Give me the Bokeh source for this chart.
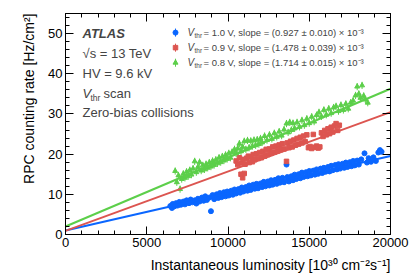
from bokeh.plotting import figure
from bokeh.models import Range1d, LinearAxis, SingleIntervalTicker, Label, Title
from bokeh.embed import file_html
from bokeh.resources import INLINE

# ---------------- data ----------------
blue_x = [6450, 6550, 6600, 6700, 6800, 6900, 7000, 7100, 7250, 7350, 7450, 7600, 7700, 7800,
          7950, 8050, 8150, 8250, 8400, 8500, 8600, 8700, 8850, 8950, 9050, 9150, 9300, 9400,
          9500, 9600, 9750, 9850, 9950, 10050, 10200, 10300, 10400, 10500, 10650, 10750, 10850,
          10950, 11100, 11200, 11300, 11400, 11550, 11650, 11750, 11850, 12000, 12100, 12200,
          12300, 12450, 12550, 12650, 12750, 12900, 13000, 13100, 13200, 13350, 13450, 13600,
          13650, 13750, 13900, 14000, 14100, 14200, 14350, 14450, 14550, 14650, 14800, 14900,
          15000, 15100, 15250, 15350, 15450, 15550, 15700, 15800, 15900, 16000, 16150, 16250,
          16350, 16450, 16600, 16700, 16800, 16900, 17050, 17150, 17250, 17350, 17500, 17600,
          17700, 17800, 17950, 18050, 18200, 18400, 18550, 18650, 18800, 18950, 19100, 19250,
          19350, 19450]
blue_y = [7.1, 6.6, 7.6, 7.0, 7.8, 7.2, 8.1, 7.4, 8.2, 7.5, 8.5, 7.8, 8.7, 8.0,
          8.5, 7.7, 8.9, 8.2, 9.2, 8.4, 9.5, 8.6, 9.2, 5.8, 9.8, 8.8, 10.0, 9.1,
          10.3, 9.3, 10.5, 9.5, 10.7, 9.7, 10.9, 9.9, 11.2, 10.2, 11.3, 10.4, 11.7,
          10.7, 11.8, 10.9, 12.2, 11.1, 12.4, 11.4, 12.6, 11.5, 12.7, 11.8, 13.1,
          12.0, 13.2, 12.2, 13.5, 12.4, 13.6, 12.6, 14.0, 12.9, 14.1, 13.0, 17.4,
          14.3, 13.2, 14.5, 13.5, 14.9, 13.8, 15.0, 14.0, 15.4, 14.3, 15.5, 14.5,
          15.8, 14.7, 15.9, 14.9, 16.2, 15.1, 16.4, 15.3, 16.6, 15.6, 16.8, 15.7,
          17.1, 16.0, 17.3, 16.2, 17.5, 16.4, 17.6, 16.6, 17.9, 16.8, 18.0, 17.0,
          18.3, 17.2, 18.4, 17.4, 18.7, 20.2, 17.9, 19.0, 18.1, 19.2, 18.3, 20.4,
          21.0, 20.6]
blue_err = 0.4

red_x = [10500, 10600, 10700, 10800, 10850, 10900, 10950, 11000, 11050, 11150, 11250, 11300,
         11400, 11500, 11550, 11650, 11750, 11850, 11950, 12050, 12150, 12250, 12350, 12450,
         12550, 12650, 12750, 12850, 12950, 13050, 13150, 13250, 13350, 13450, 13600, 13650,
         13750, 13850, 13950, 14050, 14150, 14250, 14350, 14450, 14550, 14650, 14750, 14850,
         14950, 15050, 15150, 15250, 15350, 15450, 15550, 15650, 15750, 15850, 15950, 16050,
         16150, 16250, 16350, 16450, 16550, 16650, 16750, 16850]
red_y = [18.3, 17.4, 19.1, 15.0, 17.8, 14.1, 18.7, 15.2, 17.5, 19.0, 19.5, 17.9,
         19.3, 18.1, 19.9, 18.6, 20.1, 18.9, 20.4, 19.1, 20.7, 19.5, 21.2, 19.9,
         21.3, 20.2, 21.8, 20.5, 22.0, 20.8, 22.3, 21.1, 22.6, 21.3, 18.2, 22.8,
         21.6, 23.2, 21.8, 23.5, 22.2, 23.9, 22.5, 24.2, 22.8, 24.5, 23.1, 24.8,
         21.6, 21.9, 21.4, 24.9, 21.7, 22.0, 21.5, 21.8, 25.3, 24.4, 25.9, 24.8,
         26.3, 25.1, 26.7, 25.5, 27.0, 27.6, 25.9, 27.2]
red_err = 0.5

green_x = [6750, 6850, 6950, 7050, 7150, 7250, 7350, 7450, 7550, 7650, 7750, 7850, 7950, 8050,
           8150, 8250, 8350, 8450, 8550, 8650, 8750, 8850, 8950, 9050, 9150, 9250, 9350, 9450,
           9550, 9650, 9750, 9850, 9950, 10050, 10150, 10250, 10400, 10500, 10600, 10700,
           10800, 10900, 11000, 11100, 11200, 11300, 11400, 11500, 11600, 11700, 11800, 11900,
           12000, 12100, 12250, 12400, 12550, 12700, 12850, 13000, 13150, 13300, 13450, 13600,
           13700, 13800, 13900, 14000, 14100, 14250, 14400, 14550, 14700, 14850, 15000, 15150,
           15300, 15450, 15600, 15750, 15900, 16050, 16200, 16350, 16500, 16650, 16800, 16950,
           17100, 17250, 17400, 17550, 17700, 17850, 17950, 18050, 18150, 18250, 18350, 18450,
           18600]
green_y = [15.8, 13.0, 14.7, 11.3, 13.8, 15.1, 14.1, 15.6, 14.5, 16.0, 14.9, 16.4, 18.2, 15.5,
           16.8, 18.0, 15.9, 17.2, 16.2, 17.5, 16.6, 17.9, 16.9, 18.3, 17.3, 18.6, 17.7, 19.1,
           18.0, 19.4, 18.4, 19.8, 18.8, 20.2, 19.1, 20.5, 21.2, 20.2, 21.4, 22.6,
           20.7, 21.8, 23.2, 21.2, 23.4, 21.6, 23.3, 22.0, 23.5, 22.2, 23.6, 22.5,
           23.9, 22.9, 24.5, 23.5, 24.8, 23.8, 25.2, 24.3, 25.6, 24.6, 26.1, 27.6,
           25.4, 27.9, 26.0, 27.7, 26.4, 27.9, 26.8, 28.4, 27.2, 28.8, 27.7, 29.3,
           28.1, 29.7, 30.4, 29.4, 31.0, 29.8, 31.3, 30.2, 31.6, 31.9, 30.7, 32.2,
           31.0, 32.5, 31.3, 32.8, 33.3, 34.6, 36.8, 35.0, 34.0, 37.1, 34.5, 33.6,
           32.8]
green_err = 0.9

fit_x = [0, 20000]
fit_slopes = [0.927e-3, 1.478e-3, 1.714e-3]
fit_intercepts = [1.0, 0.9, 2.0]
legend_labels = ["= 1.0 V, slope = (0.927 \u00b1 0.010) \u00d7 10\u207b\u00b3",
                 "= 0.9 V, slope = (1.478 \u00b1 0.039) \u00d7 10\u207b\u00b3",
                 "= 0.8 V, slope = (1.714 \u00b1 0.015) \u00d7 10\u207b\u00b3"]
x_ticks = [0, 5000, 10000, 15000, 20000]
y_ticks = [0, 10, 20, 30, 40, 50]
x_title = "Instantaneous luminosity [10\u00b3\u2070 cm\u207b\u00b2s\u207b\u00b9]"
y_title = "RPC counting rate [Hz/cm\u00b2]"

BLUE = "#0a66ff"
RED = "#dc5550"
GREEN = "#5ccf4a"
FONT = "Liberation Sans"

p = figure(width=411, height=279, output_backend="svg", toolbar_location=None,
           x_range=Range1d(0, 20000), y_range=Range1d(0, 55),
           min_border_left=65, min_border_right=21, min_border_top=13, min_border_bottom=45)
p.grid.visible = False
p.outline_line_color = "black"
p.background_fill_color = "white"
p.border_fill_color = "white"


def style_axis(ax, labels=True):
    ax.axis_line_color = "black"
    ax.major_tick_line_color = "black"
    ax.minor_tick_line_color = "black"
    ax.major_tick_in = 8
    ax.major_tick_out = 0
    ax.minor_tick_in = 4
    ax.minor_tick_out = 0
    ax.major_label_text_font = FONT
    ax.major_label_text_color = "black"
    ax.major_label_text_font_size = "13px"
    if labels:
        ax.major_label_standoff = 3
    else:
        ax.major_label_standoff = 0


p.xaxis.ticker = SingleIntervalTicker(interval=5000, num_minor_ticks=5)
p.yaxis.ticker = SingleIntervalTicker(interval=10, num_minor_ticks=5)
style_axis(p.xaxis[0])
style_axis(p.yaxis[0])

top = LinearAxis(ticker=SingleIntervalTicker(interval=5000, num_minor_ticks=5),
                 major_label_overrides={t: "" for t in x_ticks})
right = LinearAxis(ticker=SingleIntervalTicker(interval=10, num_minor_ticks=5),
                   major_label_overrides={t: "" for t in y_ticks})
style_axis(top, labels=False)
style_axis(right, labels=False)
p.add_layout(top, "above")
p.add_layout(right, "right")

p.add_layout(Title(text=x_title, align="right", standoff=10, text_font=FONT,
                   text_font_size="14px", text_font_style="normal", text_color="black"), "below")
p.add_layout(Title(text=y_title, align="right", standoff=17, text_font=FONT,
                   text_font_size="14px", text_font_style="normal", text_color="black"), "left")

series = [(blue_x, blue_y, blue_err, BLUE, "circle", 5),
          (red_x, red_y, red_err, RED, "square", 4.5),
          (green_x, green_y, green_err, GREEN, "triangle", 5)]

for xs, ys, err, col, mk, sz in series:
    p.segment(x0=xs, y0=[y - err for y in ys], x1=xs, y1=[y + err for y in ys],
              line_color=col, line_width=1)
    p.scatter(x=xs, y=ys, marker=mk, size=sz, fill_color=col, line_color=col)

for (xs, ys, err, col, mk, sz), m, b in zip(series, fit_slopes, fit_intercepts):
    p.line(x=fit_x, y=[b + m * x for x in fit_x], line_color=col, line_width=2)

# legend
leg_marker_x = 6770
leg_text_x = 7510
leg_rows = [50.25, 46.5, 42.75]
for (xs, ys, err, col, mk, sz), yrow, lab in zip(series, leg_rows, legend_labels):
    p.segment(x0=[leg_marker_x], y0=[yrow - 1.0], x1=[leg_marker_x], y1=[yrow + 1.0],
              line_color=col, line_width=1)
    p.scatter(x=[leg_marker_x], y=[yrow], marker=mk, size=sz, fill_color=col, line_color=col)
    p.add_layout(Label(x=leg_text_x, y=yrow, text="V", text_font=FONT, text_font_style="italic",
                       text_font_size="10px", text_baseline="middle"))
    p.add_layout(Label(x=leg_text_x, y=yrow, x_offset=7, y_offset=-3, text="thr", text_font=FONT,
                       text_font_size="6.5px", text_baseline="middle"))
    p.add_layout(Label(x=leg_text_x, y=yrow, x_offset=16, text=lab, text_font=FONT,
                       text_font_size="9.5px", text_baseline="middle"))

# annotations
ann_x = 1046
p.add_layout(Label(x=ann_x, y=50, text="ATLAS", text_font=FONT, text_font_style="bold italic",
                   text_font_size="13px", text_baseline="middle"))
p.add_layout(Label(x=ann_x, y=45, text="\u221as = 13 TeV", text_font=FONT,
                   text_font_size="13px", text_baseline="middle"))
p.add_layout(Label(x=ann_x, y=40, text="HV = 9.6 kV", text_font=FONT,
                   text_font_size="13px", text_baseline="middle"))
p.add_layout(Label(x=ann_x, y=35, text="V", text_font=FONT, text_font_style="italic",
                   text_font_size="13px", text_baseline="middle"))
p.add_layout(Label(x=ann_x, y=35, x_offset=8, y_offset=-4, text="thr", text_font=FONT,
                   text_font_size="8.5px", text_baseline="middle"))
p.add_layout(Label(x=ann_x, y=35, x_offset=21, text="scan", text_font=FONT,
                   text_font_size="13px", text_baseline="middle"))
p.add_layout(Label(x=ann_x, y=30.25, text="Zero-bias collisions", text_font=FONT,
                   text_font_size="13px", text_baseline="middle"))

open("out.html", "w").write(file_html(p, INLINE))
